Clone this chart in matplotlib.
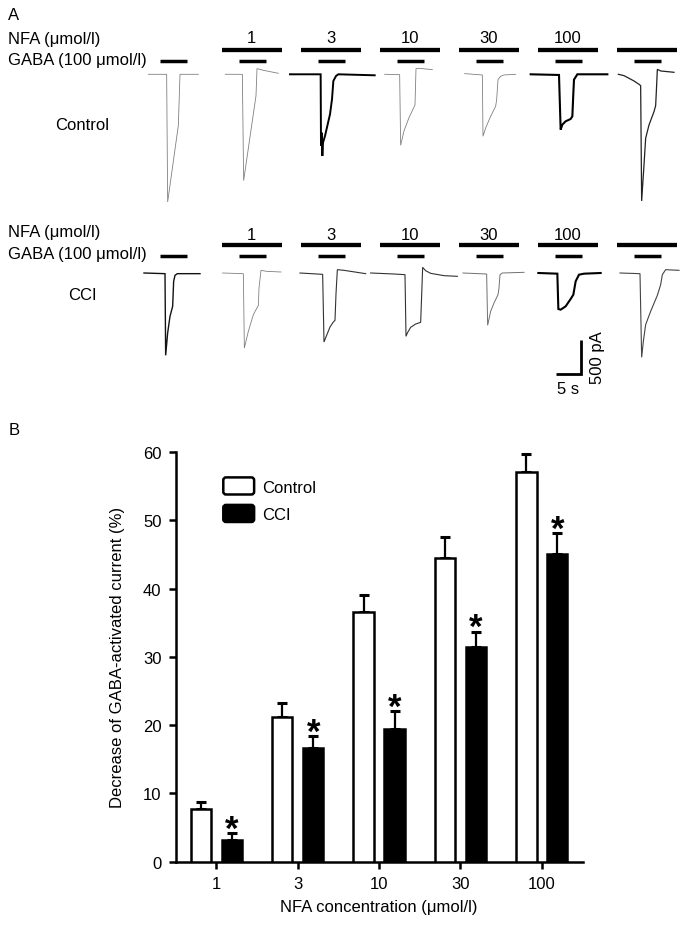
import numpy as np
import matplotlib.pyplot as plt
from matplotlib.patches import FancyBboxPatch
from matplotlib.legend_handler import HandlerBase
from matplotlib.container import BarContainer

plt.rcParams['font.family'] = ['Liberation Sans', 'DejaVu Sans']

# ---------------- panel B data ----------------
CONC_LABELS = ['1', '3', '10', '30', '100']
CONTROL_MEAN = [7.7, 21.2, 36.5, 44.5, 57.0]
CONTROL_SEM = [1.05, 2.1, 2.6, 3.0, 2.7]
CCI_MEAN = [3.2, 16.7, 19.4, 31.4, 45.0]
CCI_SEM = [1.0, 1.7, 2.6, 2.3, 3.1]

# ---------------- panel A traces (s, pA; t=0 at NFA onset) ----------------
NFA_LABELS = ['', '1', '3', '10', '30', '100', '']

CTRL_T = [
    [1.13, 4.79, 4.99, 7.13, 7.46, 11.13],
    [0.73, 4.13, 4.39, 6.86, 7.06, 8.33, 11.33],
    [-2.14, 3.99, 4.06, 4.19, 4.33, 4.46, 4.86, 5.86, 6.26, 6.53, 7.06, 7.53, 14.8],
    [0.99, 3.99, 4.19, 4.86, 5.86, 7.06, 7.26, 7.86, 10.53],
    [1.19, 4.73, 4.86, 5.39, 6.39, 7.39, 7.59, 7.86, 8.39, 9.06, 11.39],
    [-1.41, 4.26, 4.59, 4.93, 5.59, 6.59, 6.93, 7.13, 7.26, 7.93, 13.93],
    [0.33, 1.46, 2.46, 3.46, 4.46, 4.79, 4.99, 5.46, 5.79, 6.46, 7.46, 7.79,
     7.99, 8.13, 8.79, 11.46],
]
CTRL_I = [
    [0, 0, -1915, -765, 0, 0],
    [0, 0, -1595, -320, 85, 60, 15],
    [0, 0, -1075, -875, -1225, -1025, -925, -600, -375, -100, -25, 0, -15],
    [0, -5, -1065, -850, -650, -460, 85, 90, 70],
    [10, -10, -930, -805, -630, -480, -380, -80, -30, -10, 0],
    [0, -10, -830, -755, -705, -670, -630, -280, -80, 0, 0],
    [0, -20, -60, -100, -150, -170, -1900, -1360, -960, -760, -560, -470,
     -160, 75, 50, 30],
]

CCI_T = [
    [0.26, 4.46, 4.59, 4.99, 5.46, 5.99, 6.19, 6.46, 6.93, 11.46],
    [0.19, 4.33, 4.53, 5.33, 6.33, 7.33, 7.46, 7.86, 8.99, 11.86],
    [-0.15, 4.39, 4.66, 5.19, 5.86, 6.53, 6.86, 7.06, 7.33, 8.66, 12.99],
    [-1.81, 2.86, 5.06, 5.26, 5.53, 6.19, 7.19, 8.19, 8.39, 8.59, 9.19, 10.19,
     12.86, 15.53],
    [0.86, 5.59, 5.79, 6.39, 7.06, 7.86, 8.06, 8.26, 8.73, 13.06],
    [0.13, 3.93, 4.13, 4.59, 5.59, 6.59, 7.13, 7.59, 8.26, 9.26, 12.59],
    [0.66, 4.66, 4.99, 5.33, 5.79, 6.79, 8.13, 8.79, 9.13, 9.79, 12.46],
]
CCI_I = [
    [0, -10, -1235, -900, -650, -500, -125, -35, -10, -10],
    [0, -10, -1125, -875, -625, -485, -225, 40, 25, 15],
    [0, -20, -1035, -935, -810, -735, -710, -310, 50, 40, -10],
    [0, -15, -25, -950, -900, -815, -765, -740, -340, 85, 35, -5, -40, -50],
    [0, -15, -785, -575, -450, -325, -225, -25, 0, 10],
    [0, -10, -540, -550, -500, -390, -325, -125, -25, -10, 0],
    [0, -10, -1265, -1025, -775, -575, -335, -175, -25, 50, 40],
]

NFA_ON = (0.0, 12.0)      # s
GABA_ON = (3.5, 8.8)      # s

# trace looks (colour, width)
CTRL_STYLE = [('#808080', 0.6), ('#808080', 0.6), ('black', 1.4), ('#808080', 0.6),
              ('#808080', 0.6), ('black', 1.5), ('#222222', 0.9)]
CCI_STYLE = [('#111111', 1.0), ('#808080', 0.6), ('#333333', 0.8), ('#333333', 0.8),
             ('#707070', 0.7), ('black', 1.5), ('#444444', 0.8)]

# ---------------- layout helpers ----------------
W, H = 688, 928
FS = 12
PX_PER_S = 5.0
PA_PER_PX = 15.0
COL0_PX = 142.7
COL_STEP_S = 79.0 / PX_PER_S

fig = plt.figure(figsize=(W / 100, H / 100), dpi=100)


def fx(x):
    return x / W


def fy(y):
    return 1 - y / H


def trace_row(top, bottom, base, times, currents, styles, nfa_y, gaba_y, lab_y):
    ax = fig.add_axes([0, fy(bottom), 1, (bottom - top) / H])
    ax.set_xlim(-COL0_PX / PX_PER_S, (W - COL0_PX) / PX_PER_S)
    ax.set_ylim(-(bottom - base) * PA_PER_PX, (base - top) * PA_PER_PX)
    ax.axis('off')
    for i, (t, cur) in enumerate(zip(times, currents)):
        off = i * COL_STEP_S
        col, lw = styles[i]
        ax.plot(np.array(t) + off, cur, color=col, lw=lw,
                solid_joinstyle='miter')
        if i > 0:
            ax.plot([NFA_ON[0] + off, NFA_ON[1] + off], [nfa_y, nfa_y],
                    color='black', lw=3.1, solid_capstyle='butt')
        ax.plot([GABA_ON[0] + off, GABA_ON[1] + off], [gaba_y, gaba_y],
                color='black', lw=2.5, solid_capstyle='butt')
        if NFA_LABELS[i]:
            ax.text(np.mean(NFA_ON) + off, lab_y, NFA_LABELS[i], ha='center',
                    va='center', fontsize=FS)
    return ax


ax1 = trace_row(0, 215, 75.3, CTRL_T, CTRL_I, CTRL_STYLE, 360, 195, 545)
ax2 = trace_row(215, 445, 274, CCI_T, CCI_I, CCI_STYLE, 413, 248, 585)

# scale bar: 5 s, 500 pA
sb_t = (556.3 - COL0_PX) / PX_PER_S
sb_i = -(374.5 - 274) * PA_PER_PX
ax2.plot([sb_t, sb_t + 5, sb_t + 5], [sb_i, sb_i, sb_i + 500], color='black',
         lw=2.0, solid_capstyle='butt', solid_joinstyle='miter')
fig.text(fx(568), fy(390), '5 s', ha='center', va='center', fontsize=FS)
fig.text(fx(597.3), fy(357.5), '500 pA', ha='center', va='center',
         rotation=90, fontsize=FS)

# row labels
fig.text(fx(8.3), fy(15), 'A', ha='left', va='center', fontsize=FS)
for yn, yg in [(39.3, 60), (233, 254.3)]:
    fig.text(fx(8.3), fy(yn), 'NFA (\u03bcmol/l)', ha='left', va='center', fontsize=FS)
    fig.text(fx(8.3), fy(yg), 'GABA (100 \u03bcmol/l)', ha='left', va='center', fontsize=FS)
fig.text(fx(81.7), fy(125.7), 'Control', ha='center', va='center', fontsize=FS)
fig.text(fx(82.7), fy(296), 'CCI', ha='center', va='center', fontsize=FS)

# ---------------- panel B ----------------
fig.text(fx(8.3), fy(430.7), 'B', ha='left', va='center', fontsize=FS)


class RoundBox(HandlerBase):
    def create_artists(self, legend, orig_handle, xdescent, ydescent,
                       width, height, fontsize, trans):
        r = 2.0
        face = orig_handle.patches[0].get_facecolor()
        box = FancyBboxPatch((-xdescent + r, -ydescent + r), width - 2 * r,
                             height - 2 * r, boxstyle=f'round,pad={r}',
                             fc=face, ec='black', lw=1.8, transform=trans)
        return [box]


axb = fig.add_axes([fx(175.7), fy(862.7), 406.8 / W, 409.7 / H])
x = np.arange(len(CONC_LABELS))
off, bw = 0.19, 0.25
axb.errorbar(x - off, CONTROL_MEAN, yerr=[np.zeros(len(x)), CONTROL_SEM],
             fmt='none', ecolor='black', elinewidth=1.6, capsize=3.3,
             capthick=2.2, zorder=2)
axb.errorbar(x + off, CCI_MEAN, yerr=[np.zeros(len(x)), CCI_SEM],
             fmt='none', ecolor='black', elinewidth=1.6, capsize=3.3,
             capthick=2.2, zorder=2)
bars_c = axb.bar(x - off, CONTROL_MEAN, bw, color='white', edgecolor='black',
                 linewidth=1.8, label='Control', zorder=3)
bars_k = axb.bar(x + off, CCI_MEAN, bw, color='black', edgecolor='black',
                 linewidth=1.8, label='CCI', zorder=3)
for xi, m, s in zip(x + off, CCI_MEAN, CCI_SEM):
    axb.annotate('*', xy=(xi, m + s), xytext=(0, -4), textcoords='offset points',
                 ha='center', va='baseline', fontsize=25, fontweight='bold')

axb.set_xlim(-0.5, 4.5)
axb.set_ylim(0, 60)
axb.set_yticks(np.arange(0, 61, 10))
axb.set_xticks(x)
axb.set_xticklabels(CONC_LABELS)
for side in ['top', 'right']:
    axb.spines[side].set_visible(False)
for side in ['left', 'bottom']:
    axb.spines[side].set_linewidth(1.8)
axb.tick_params(axis='both', direction='out', length=5.3, width=1.8,
                labelsize=FS, pad=5)
axb.set_ylabel('Decrease of GABA-activated current (%)', fontsize=FS, labelpad=13)
axb.set_xlabel('NFA concentration (\u03bcmol/l)', fontsize=FS, labelpad=6)

axb.legend(handles=[bars_c, bars_k], loc='upper left',
           bbox_to_anchor=(0.117, 0.938), frameon=False, borderpad=0,
           borderaxespad=0, handlelength=1.85, handleheight=1.2,
           labelspacing=0.62, handletextpad=0.5, fontsize=FS,
           handler_map={BarContainer: RoundBox()})

fig.savefig('out.png', dpi=100)
